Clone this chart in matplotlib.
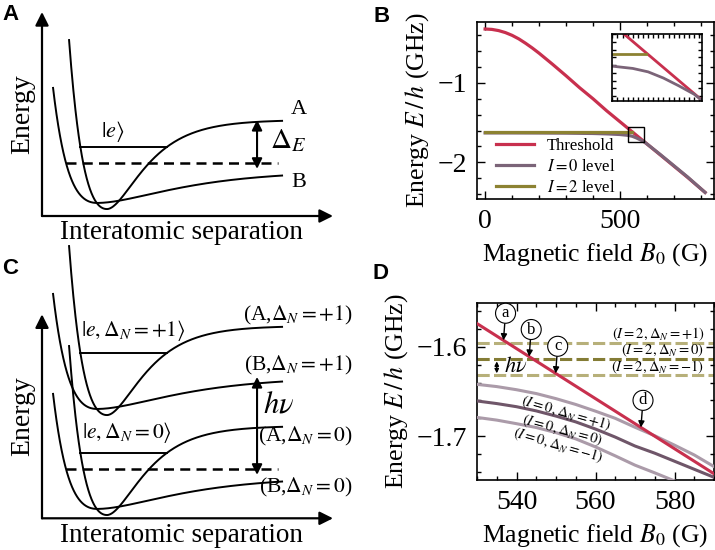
import numpy as np
import matplotlib
matplotlib.use('Agg')
import matplotlib.pyplot as plt
from matplotlib.ticker import MultipleLocator
from matplotlib.lines import Line2D
from matplotlib.patches import Rectangle

plt.rcParams['font.family'] = ['Liberation Serif', 'DejaVu Serif']
plt.rcParams['mathtext.fontset'] = 'stix'

# ---------------- Panel B data ----------------
thr_B = [0, 25, 50, 75, 100, 125, 150, 175, 200, 250, 300, 350, 400, 450, 500, 550, 600, 650, 700, 750, 815]
thr_E = [-0.320, -0.325, -0.340, -0.365, -0.400, -0.445, -0.500, -0.560, -0.625, -0.765, -0.910,
         -1.060, -1.200, -1.350, -1.490, -1.630, -1.770, -1.910, -2.050, -2.190, -2.380]
i0_B = [0, 100, 200, 300, 400, 450, 500, 530, 545, 560, 575, 590, 600, 650, 700, 750, 815]
i0_E = [-1.630, -1.630, -1.631, -1.633, -1.637, -1.642, -1.650, -1.661, -1.672, -1.692, -1.717,
        -1.744, -1.770, -1.905, -2.045, -2.185, -2.380]
i2_B = [0, 543]
i2_E = [-1.614, -1.614]
legend_labels = ['Threshold', r'$I = 0$ level', r'$I = 2$ level']

# ---------------- Panel D data ----------------
d_B = [530, 535, 540, 545, 550, 555, 560, 565, 570, 575, 580, 585, 590]
i0_p1_E = [-1.642, -1.6445, -1.648, -1.6523, -1.658, -1.6645, -1.672, -1.680, -1.690, -1.6995, -1.710, -1.721, -1.734]
i0_0_E = [-1.6606, -1.6635, -1.667, -1.6717, -1.6775, -1.684, -1.692, -1.701, -1.711, -1.719, -1.728, -1.737, -1.746]
i0_m1_E = [-1.679, -1.682, -1.686, -1.6903, -1.696, -1.703, -1.712, -1.722, -1.7324, -1.741, -1.750, -1.760, -1.770]
i2_levels_E = [-1.596, -1.614, -1.632]   # ΔN = +1, 0, -1
i2_labels = [r'$(I = 2, \Delta_N = +1)$', r'$(I = 2, \Delta_N = 0)$', r'$(I = 2, \Delta_N = -1)$']
i0_labels = [r'$(I = 0, \Delta_N = +1)$', r'$(I = 0, \Delta_N = 0)$', r'$(I = 0, \Delta_N = -1)$']
mark_B = [536.7, 543.2, 549.9, 571.5]
mark_lbl = ['a', 'b', 'c', 'd']

# ---------------- Schematic potentials (A, C) ----------------
pot_E_inf = [4.71, 2.21]
pot_depth = [4.37, 1.57]
pot_r_eq = [2.23, 1.89]
pot_a_left = [0.666, 0.704]
pot_a_right = [0.873, 0.407]
pot_r_start = [0.93, 0.38]
pot_r_end = 8.25
bound_E = 3.38
entrance_E = 2.60
entrance_r_end = 8.11
chan_offset_C = [-0.18, 4.72]   # ΔN = 0, +1

c_red = '#C8304E'
c_pur = '#7B6478'
c_olv = '#8C8232'
c_olv_l = '#B7B07A'
c_olv_d = '#847C35'
c_pur_l = '#AB9BA9'
c_pur_d = '#6F5669'

fig = plt.figure(figsize=(7.15, 5.5), dpi=100)


def morse(r, i, off=0.0):
    a = np.where(r < pot_r_eq[i], pot_a_left[i], pot_a_right[i])
    x = np.exp(-a * (r - pot_r_eq[i]))
    return pot_E_inf[i] - pot_depth[i] + pot_depth[i] * (1 - x) ** 2 + off


def turning_points(i, E, off=0.0):
    q = np.sqrt((E - off - pot_E_inf[i] + pot_depth[i]) / pot_depth[i])
    r_l = pot_r_eq[i] - np.log(1 + q) / pot_a_left[i]
    r_r = pot_r_eq[i] - np.log(1 - q) / pot_a_right[i] if q < 1 else pot_r_end
    return r_l, r_r


def schem_axes(bottom_px):
    ax = fig.add_axes([42 / 715, (550 - bottom_px) / 550, 291 / 715, 204 / 550])
    ax.set_xlim(0, 10)
    ax.set_ylim(0, 10)
    ax.axis('off')
    ax.annotate('', xy=(0, 10), xytext=(0, 0),
                arrowprops=dict(arrowstyle='-|>', lw=1.6, color='k', mutation_scale=20,
                                shrinkA=0, shrinkB=0))
    ax.annotate('', xy=(10, 0), xytext=(0, 0),
                arrowprops=dict(arrowstyle='-|>', lw=1.6, color='k', mutation_scale=20,
                                shrinkA=0, shrinkB=0))
    ax.text(-0.68, 5.0, 'Energy', rotation=90, ha='center', va='center', fontsize=20)
    ax.text(4.78, -0.82, 'Interatomic separation', ha='center', va='center', fontsize=19.5)
    return ax


def draw_pair(ax, off):
    for i in range(2):
        r = np.linspace(pot_r_start[i], pot_r_end, 400)
        ax.plot(r, morse(r, i, off), color='k', lw=1.4, clip_on=False)
    rl, rr = turning_points(0, bound_E + off, off)
    ax.plot([rl, rr], [bound_E + off] * 2, color='k', lw=1.4)


# Panel A
axA = schem_axes(216)
draw_pair(axA, 0.0)
rl, _ = turning_points(1, entrance_E)
axA.plot([rl, entrance_r_end], [entrance_E] * 2, color='k', lw=1.8, ls=(0, (4, 2.5)))
axA.annotate('', xy=(7.39, pot_E_inf[0]), xytext=(7.39, pot_E_inf[1] + 0.1),
             arrowprops=dict(arrowstyle='<|-|>', lw=1.5, color='k', mutation_scale=15,
                             shrinkA=0, shrinkB=0))
axA.text(2.44, 4.12, r'$|e\rangle$', ha='center', va='center', fontsize=16)
axA.text(8.45, 3.68, r'$\Delta_E$', ha='center', va='center', fontsize=21)
axA.text(8.83, 5.2, 'A', ha='center', va='center', fontsize=16)
axA.text(8.83, 1.62, 'B', ha='center', va='center', fontsize=16)

# Panel C
axC = schem_axes(518.3)
for off in chan_offset_C:
    draw_pair(axC, off)
rl, _ = turning_points(1, entrance_E + chan_offset_C[0], chan_offset_C[0])
axC.plot([rl, entrance_r_end], [entrance_E + chan_offset_C[0]] * 2, color='k', lw=1.8, ls=(0, (4, 2.5)))
axC.annotate('', xy=(7.39, pot_E_inf[1] + chan_offset_C[1]),
             xytext=(7.39, pot_E_inf[1] + chan_offset_C[0] + 0.1),
             arrowprops=dict(arrowstyle='<|-|>', lw=1.5, color='k', mutation_scale=15,
                             shrinkA=0, shrinkB=0))
axC.text(3.14, 9.23, r'$|e, \Delta_N = +1\rangle$', ha='center', va='center', fontsize=15.5)
axC.text(2.92, 4.23, r'$|e, \Delta_N = 0\rangle$', ha='center', va='center', fontsize=15.5)
axC.text(10.68, 9.92, r'(A,$\Delta_N = +1$)', ha='right', va='center', fontsize=15.5)
axC.text(10.68, 7.47, r'(B,$\Delta_N = +1$)', ha='right', va='center', fontsize=15.5)
axC.text(10.68, 3.99, r'(A,$\Delta_N = 0$)', ha='right', va='center', fontsize=15.5)
axC.text(10.68, 1.49, r'(B,$\Delta_N = 0$)', ha='right', va='center', fontsize=15.5)
axC.text(8.13, 5.55, r'$h\nu$', ha='center', va='center', fontsize=22)


def style_ticks(ax, xmaj, xmin, ymaj, ymin, labels=True, size=20):
    ax.xaxis.set_major_locator(MultipleLocator(xmaj))
    ax.xaxis.set_minor_locator(MultipleLocator(xmin))
    ax.yaxis.set_major_locator(MultipleLocator(ymaj))
    ax.yaxis.set_minor_locator(MultipleLocator(ymin))
    ax.tick_params(which='both', direction='in', top=True, right=True, width=1.0)
    ax.tick_params(which='major', length=6, labelsize=size, pad=7)
    ax.tick_params(which='minor', length=3)
    for s in ax.spines.values():
        s.set_linewidth(1.2)
    if not labels:
        ax.tick_params(which='both', labelbottom=False, labelleft=False, length=3)


# Panel B
axB = fig.add_axes([477 / 715, (550 - 199) / 550, 237 / 715, 177.3 / 550])
axB.plot(thr_B, thr_E, color=c_red, lw=2.3)
axB.plot(i0_B, i0_E, color=c_pur, lw=2.3)
axB.plot(i2_B, i2_E, color=c_olv, lw=2.3)
axB.set_xlim(-30, 848)
axB.set_ylim(-2.463, -0.228)
style_ticks(axB, 500, 100, 1, 0.2)
axB.set_xlabel(r'Magnetic field $B_0$ (G)', fontsize=18.5, labelpad=5)
axB.set_ylabel(r'Energy $E\,/\,h$ (GHz)', fontsize=18.5, labelpad=5)
handles = [Line2D([], [], color=c, lw=2.3) for c in (c_red, c_pur, c_olv)]
axB.legend(handles, legend_labels, loc='lower left', bbox_to_anchor=(0.015, -0.065),
           frameon=False, fontsize=12, handlelength=2.3, handletextpad=0.8, labelspacing=0.3)

dx0, dx1 = 530, 590
dy0, dy1 = -1.749, -1.551
axB.add_patch(Rectangle((dx0, dy0), dx1 - dx0, dy1 - dy0, fill=False, ec='k', lw=1.0, zorder=5))

axI = fig.add_axes([612.3 / 715, (550 - 100.7) / 550, 90 / 715, 66.7 / 550])
axI.plot(thr_B, thr_E, color=c_red, lw=2.0)
axI.plot(i0_B, i0_E, color=c_pur, lw=2.0)
axI.plot(i2_B, i2_E, color=c_olv, lw=2.0)
axI.set_xlim(510, 598)
axI.set_ylim(-1.765, -1.55)
style_ticks(axI, 20, 5, 0.1, 0.025, labels=False)

# Panel D
axD = fig.add_axes([477 / 715, (550 - 480) / 550, 237 / 715, 177 / 550])
for E, c in zip(i2_levels_E, (c_olv_l, c_olv_d, c_olv_l)):
    axD.axhline(E, color=c, lw=2.2, ls=(0, (4, 1.4)), zorder=2)
for Es, c in zip((i0_p1_E, i0_0_E, i0_m1_E), (c_pur_l, c_pur_d, c_pur_l)):
    axD.plot(d_B, Es, color=c, lw=2.2, zorder=3)
axD.plot(thr_B, thr_E, color=c_red, lw=2.2, zorder=4)
axD.set_xlim(dx0, dx1)
axD.set_ylim(dy0, dy1)
style_ticks(axD, 20, 5, 0.1, 0.02)
axD.set_xlabel(r'Magnetic field $B_0$ (G)', fontsize=18.5, labelpad=5)
axD.set_ylabel(r'Energy $E\,/\,h$ (GHz)', fontsize=18.5, labelpad=5)

for lbl, (bx, by) in zip(i2_labels, [(575.9, -1.5864), (577.1, -1.6039), (575.7, -1.6226)]):
    axD.text(bx, by, lbl, ha='center', va='center', fontsize=10.5, zorder=6)
for lbl, (bx, by, rot) in zip(i0_labels, [(552.7, -1.6746, -16), (551.7, -1.6933, -15), (550.5, -1.710, -16)]):
    axD.text(bx, by, lbl, ha='center', va='center', fontsize=10.5, rotation=rot, zorder=6)

for b, lbl in zip(mark_B, mark_lbl):
    E = np.interp(b, thr_B, thr_E)
    axD.annotate(lbl, xy=(b, E), xytext=(1.5, 19.5), textcoords='offset points',
                 ha='center', va='center', fontsize=12, zorder=7,
                 bbox=dict(boxstyle='circle,pad=0.12', fc='white', ec='k', lw=0.8),
                 arrowprops=dict(arrowstyle='-|>', color='k', lw=1.0, mutation_scale=9,
                                 shrinkA=0, shrinkB=0))

axD.annotate('', xy=(535, i2_levels_E[1]), xytext=(535, i2_levels_E[2]),
             arrowprops=dict(arrowstyle='<|-|>', color='k', lw=1.0, mutation_scale=6,
                             shrinkA=1.5, shrinkB=1.5), zorder=7)
axD.text(539.8, -1.623, r'$h\nu$', ha='center', va='center', fontsize=16, zorder=7)

# Panel letters
for t, x, y in [('A', 2, 4), ('B', 373, 6), ('C', 2, 258), ('D', 372, 263)]:
    fig.text(x / 715, 1 - y / 550, t, ha='left', va='top', fontsize=16, fontweight='bold',
             family=['Liberation Sans', 'DejaVu Sans'])

fig.savefig('out.png', dpi=100)
